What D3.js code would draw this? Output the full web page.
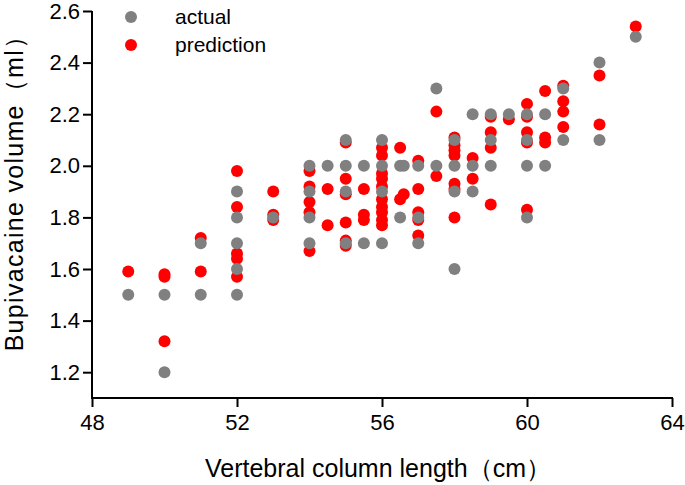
<!DOCTYPE html>
<html>
<head>
<meta charset="utf-8">
<script src="https://cdn.jsdelivr.net/npm/d3@7"></script>
<style>
  html, body { margin: 0; padding: 0; background: #fff; }
  svg { display: block; }
  text { font-family: "Liberation Sans", Arial, sans-serif; fill: #000; }
</style>
</head>
<body>
<svg id="chart" width="685" height="485"></svg>
<script>
// ---- data ----
const actualX = [49, 50, 50, 51, 51, 52, 52, 52, 52, 52, 53,
  54, 54, 54, 54, 54.5, 55, 55, 55, 55, 55.5, 55.5, 56, 56, 56, 56,
  56.5, 56.5, 56.6, 57, 57, 57, 57.5, 57.5, 58, 58, 58, 58,
  58.5, 58.5, 58.5, 59, 59, 59, 59.5, 60, 60, 60, 60, 60.5, 60.5,
  61, 61, 62, 62, 63];
const actualY = [1.5, 1.5, 1.2, 1.5, 1.7, 1.5, 1.6, 1.7, 1.8, 1.9, 1.8,
  2.0, 1.9, 1.8, 1.7, 2.0, 2.1, 2.0, 1.9, 1.7, 2.0, 1.7, 2.1, 2.0, 1.9, 1.7,
  2.0, 1.8, 2.0, 2.0, 1.8, 1.7, 2.3, 2.0, 2.1, 2.0, 1.9, 1.6,
  2.2, 2.0, 1.9, 2.2, 2.1, 2.0, 2.2, 2.2, 2.1, 2.0, 1.8, 2.2, 2.0,
  2.3, 2.1, 2.4, 2.1, 2.5];

const predX = [49, 50, 50, 50, 51, 51, 52, 52, 52, 52, 52, 53, 53, 53,
  54, 54, 54, 54, 54, 54.5, 54.5, 55, 55, 55, 55, 55, 55, 55.5, 55.5, 55.5,
  56, 56, 56, 56, 56, 56, 56, 56, 56, 56, 56.5, 56.5, 56.6,
  57, 57, 57, 57, 57, 57.5, 57.5, 58, 58, 58, 58, 58, 58, 58,
  58.5, 58.5, 59, 59, 59, 59, 59.5, 60, 60, 60, 60, 60,
  60.5, 60.5, 60.5, 61, 61, 61, 61, 62, 62, 63];
const predY = [1.59, 1.58, 1.57, 1.32, 1.72, 1.59, 1.98, 1.84, 1.66, 1.64, 1.57, 1.90, 1.81, 1.79,
  1.98, 1.92, 1.86, 1.82, 1.67, 1.91, 1.77, 2.09, 1.95, 1.89, 1.78, 1.71, 1.69, 1.91, 1.81, 1.79,
  2.07, 2.04, 1.97, 1.95, 1.92, 1.87, 1.84, 1.82, 1.79, 1.77, 2.07, 1.87, 1.89,
  2.02, 1.91, 1.82, 1.79, 1.73, 2.21, 1.96, 2.11, 2.08, 2.06, 2.04, 1.93, 1.91, 1.80,
  2.03, 1.95, 2.19, 2.13, 2.07, 1.85, 2.18, 2.24, 2.19, 2.13, 2.09, 1.83,
  2.29, 2.11, 2.09, 2.31, 2.25, 2.21, 2.15, 2.35, 2.16, 2.54];

const xTicks = [48, 52, 56, 60, 64];
const yTicks = [1.2, 1.4, 1.6, 1.8, 2.0, 2.2, 2.4, 2.6];
const seriesNames = ["actual", "prediction"];
const seriesColors = ["#808080", "#ff0000"];

// ---- layout ----
const svg = d3.select("#chart");
const mLeft = 92, mRight = 672, mTop = 11, mBottom = 398;

const x = d3.scaleLinear().domain([48, 64]).range([mLeft, mRight]);
const y = d3.scaleLinear().domain([1.1, 2.6]).range([mBottom, mTop]);

// axes
const xAxis = d3.axisBottom(x).tickValues(xTicks).tickFormat(d3.format("d"))
  .tickSize(9).tickPadding(7).tickSizeOuter(0);
const yAxis = d3.axisLeft(y).tickValues(yTicks).tickFormat(d3.format(".1f"))
  .tickSize(9).tickPadding(3).tickSizeOuter(0);

const gx = svg.append("g").attr("transform", `translate(0,${mBottom})`).call(xAxis);
const gy = svg.append("g").attr("transform", `translate(${mLeft},0)`).call(yAxis);
[gx, gy].forEach(g => {
  g.select(".domain").attr("stroke", "#000").attr("stroke-width", 2);
  g.selectAll(".tick line").attr("stroke", "#000").attr("stroke-width", 2);
  g.selectAll(".tick text").attr("font-size", 22).attr("font-family", "'Liberation Sans', Arial, sans-serif").attr("fill", "#000");
});
gy.select(".domain").attr("d", `M0,${mTop}V${mBottom + 1}`);
gx.select(".domain").attr("d", `M${mLeft - 1},0H${mRight + 1}`);

// points
const actual = actualX.map((v, i) => ({ x: v, y: actualY[i] }));
const pred = predX.map((v, i) => ({ x: v, y: predY[i] }));

svg.append("g").selectAll("circle").data(pred).join("circle")
  .attr("cx", d => x(d.x)).attr("cy", d => y(d.y)).attr("r", 6)
  .attr("fill", seriesColors[1]);
svg.append("g").selectAll("circle").data(actual).join("circle")
  .attr("cx", d => x(d.x)).attr("cy", d => y(d.y)).attr("r", 6)
  .attr("fill", seriesColors[0]);

// legend
const legend = svg.append("g");
seriesNames.forEach((name, i) => {
  legend.append("circle").attr("cx", 131).attr("cy", 17 + i * 28).attr("r", 6).attr("fill", seriesColors[i]);
  legend.append("text").attr("x", 175).attr("y", 17 + i * 28 + 7)
    .attr("font-size", 21).text(name);
});

// axis titles
svg.append("text").attr("x", 378).attr("y", 477)
  .attr("text-anchor", "middle").attr("font-size", 25)
  .text("Vertebral column length（cm）");
svg.append("text").attr("transform", `translate(23,187) rotate(-90)`)
  .attr("text-anchor", "middle").attr("font-size", 25)
  .attr("letter-spacing", "1.3px")
  .text("Bupivacaine volume（ml）");
</script>
</body>
</html>
